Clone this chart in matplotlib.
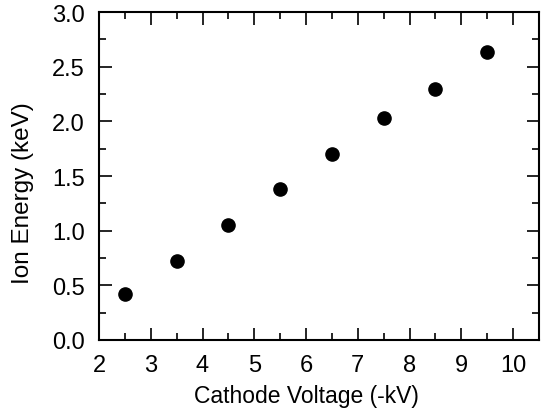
import matplotlib
matplotlib.use("Agg")
import matplotlib.pyplot as plt
from matplotlib.ticker import MultipleLocator, FormatStrFormatter

plt.rcParams['font.family'] = ['Liberation Sans', 'DejaVu Sans']

voltage = [2.5, 3.5, 4.5, 5.5, 6.5, 7.5, 8.5, 9.5]
energy = [0.42, 0.72, 1.05, 1.38, 1.70, 2.03, 2.30, 2.63]

fig = plt.figure(figsize=(5.51, 4.14), dpi=100)
ax = fig.add_axes([99/551, 1 - 341/414, 440/551, 328/414])
ax.plot(voltage, energy, 'o', color='black', markersize=9.5, linestyle='none')
ax.set_xlim(2, 10.5)
ax.set_ylim(0, 3.0)
ax.xaxis.set_major_locator(MultipleLocator(1))
ax.xaxis.set_minor_locator(MultipleLocator(0.5))
ax.yaxis.set_major_locator(MultipleLocator(0.5))
ax.yaxis.set_minor_locator(MultipleLocator(0.25))
ax.yaxis.set_major_formatter(FormatStrFormatter('%.1f'))
ax.tick_params(which='both', direction='in', top=True, right=True, labelsize=17, width=1.2, color='black')
ax.tick_params(which='major', length=9, pad=10)
ax.tick_params(which='minor', length=5)
for s in ax.spines.values():
    s.set_linewidth(1.5)
ax.set_xlabel('Cathode Voltage (-kV)', fontsize=16.5, va='baseline')
ax.xaxis.set_label_coords(0.4716, -0.189)
ax.set_ylabel('Ion Energy (keV)', fontsize=17.5, va='center')
ax.yaxis.set_label_coords(-0.173, 0.45)
fig.savefig('out.png', dpi=100)
